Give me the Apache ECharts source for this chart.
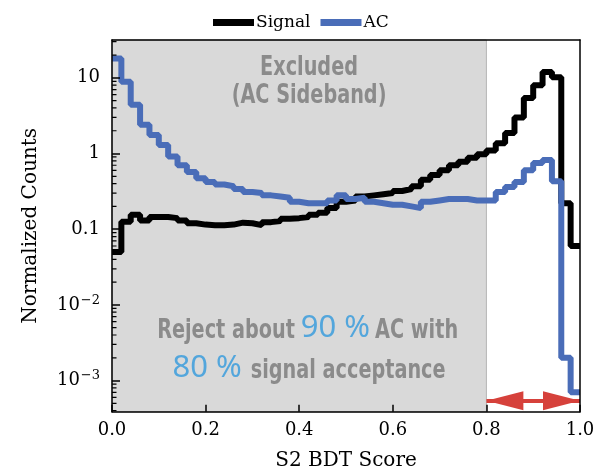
<!DOCTYPE html>
<html>
<head>
<meta charset="utf-8">
<script src="https://cdn.jsdelivr.net/npm/echarts@6/dist/echarts.min.js"></script>
<style>
html,body{margin:0;padding:0;background:#fff;}
#chart{width:595px;height:468px;}
</style>
</head>
<body>
<div id="chart"></div>
<script>
// ---- data ----
const binEdges = [0.00,0.02,0.04,0.06,0.08,0.10,0.12,0.14,0.16,0.18,
                  0.20,0.22,0.24,0.26,0.28,0.30,0.32,0.34,0.36,0.38,
                  0.40,0.42,0.44,0.46,0.48,0.50,0.52,0.54,0.56,0.58,
                  0.60,0.62,0.64,0.66,0.68,0.70,0.72,0.74,0.76,0.78,
                  0.80,0.82,0.84,0.86,0.88,0.90,0.92,0.94,0.96,0.98,1.00];
const signalCounts = [0.05,0.125,0.155,0.13,0.145,0.145,0.14,0.13,0.12,0.115,
                      0.113,0.113,0.115,0.122,0.12,0.113,0.124,0.128,0.137,0.14,
                      0.145,0.155,0.165,0.19,0.23,0.24,0.27,0.28,0.29,0.30,
                      0.32,0.34,0.37,0.45,0.52,0.60,0.70,0.78,0.88,0.98,
                      1.1,1.37,1.87,3.0,5.4,8.0,11.9,10.2,0.22,0.06];
const acCounts = [18,8.9,4.4,2.4,1.75,1.3,0.91,0.70,0.57,0.47,
                  0.42,0.39,0.37,0.34,0.31,0.30,0.28,0.27,0.26,0.23,
                  0.22,0.22,0.22,0.24,0.28,0.25,0.26,0.23,0.22,0.21,
                  0.21,0.20,0.19,0.23,0.24,0.25,0.25,0.25,0.24,0.24,
                  0.24,0.31,0.36,0.42,0.60,0.75,0.82,0.43,0.002,0.0007];
const seriesNames = ['Signal','AC'];
const yTickLabels = {'-3':['10','−3'],'-2':['10','−2'],'-1':['0.1',''],'0':['1',''],'1':['10','']};
const yMinorTicks = [4e-4,5e-4,6e-4,7e-4,8e-4,9e-4,
                     2e-3,3e-3,4e-3,5e-3,6e-3,7e-3,8e-3,9e-3,
                     2e-2,3e-2,4e-2,5e-2,6e-2,7e-2,8e-2,9e-2,
                     0.2,0.3,0.4,0.5,0.6,0.7,0.8,0.9,
                     2,3,4,5,6,7,8,9,20,30];
const yRange = [3.88e-4, 31.6];
const excludedRange = [0.0, 0.8];
const acceptRange = [0.8, 1.0];
const arrowLevel = 5.4e-4;

const annotations = [
  [0.421, 10.25, [['g','Excluded']]],
  [0.421, 4.37, [['g','(AC Sideband)']]],
  [0.418, 0.00344, [['g','Reject about'],['gap',6],['b','90 %'],['gap',5],['g','AC with']]],
  [0.421, 0.00102, [['b','80 %'],['gap',9],['g','signal acceptance']]]
];

function stepData(vals){
  const d = vals.map((v,i)=>[binEdges[i], v]);
  d.push([binEdges[binEdges.length-1], vals[vals.length-1]]);
  return d;
}

const chart = echarts.init(document.getElementById('chart'), null, {renderer:'canvas'});
const serif = 'DejaVu Serif';

const option = {
  animation: false,
  backgroundColor: '#fff',
  grid: {left: 112, right: 15, top: 40, bottom: 56.3, containLabel: false, outerBoundsMode: 'none'},
  legend: {
    data: seriesNames,
    left: 213, top: 14, padding: 0,
    icon: 'rect', itemWidth: 41, itemHeight: 7, itemGap: 10,
    textStyle: {fontFamily: serif, fontSize: 17, color: '#000', padding:[0,0,0,-3]}
  },
  xAxis: [{
    type: 'value', min: 0, max: 1, interval: 0.2, z: 5,
    name: 'S2 BDT Score', nameLocation: 'middle', nameGap: 39,
    nameTextStyle: {fontFamily: serif, fontSize: 20, color: '#000'},
    axisLine: {show: true, onZero: false, lineStyle: {color: '#000', width: 1.5}},
    axisTick: {show: true, inside: true, length: 7, lineStyle: {color: '#000', width: 1.5}},
    axisLabel: {fontFamily: serif, fontSize: 18, color: '#000', margin: 10,
      formatter: v => v.toFixed(1)},
    splitLine: {show: false}
  },{
    type: 'value', min: 0, max: 1, position: 'top', z: 5,
    axisLine: {show: true, onZero: false, lineStyle: {color: '#000', width: 1.5}},
    axisTick: {show: false}, axisLabel: {show: false}, splitLine: {show: false}
  }],
  yAxis: [{
    type: 'log', logBase: 10, min: yRange[0], max: yRange[1], z: 5,
    name: 'Normalized Counts', nameLocation: 'middle', nameGap: 71,
    nameTextStyle: {fontFamily: serif, fontSize: 20, color: '#000'},
    axisLine: {show: true, onZero: false, lineStyle: {color: '#000', width: 1.5}},
    axisTick: {show: true, inside: true, length: 8, lineStyle: {color: '#000', width: 1.5}},
    axisLabel: {
      fontFamily: serif, fontSize: 18, color: '#000', margin: 12,
      showMinLabel: false, showMaxLabel: false,
      formatter: v => {
        const k = String(Math.round(Math.log10(v)));
        const t = yTickLabels[k];
        if (!t) return '';
        return t[1] ? '{b|' + t[0] + '}{s|' + t[1] + '}' : '{b|' + t[0] + '}';
      },
      rich: {
        b: {fontFamily: serif, fontSize: 18, color: '#000'},
        s: {fontFamily: serif, fontSize: 13, color: '#000', padding: [0,0,9,1]}
      }
    },
    splitLine: {show: false}
  },{
    type: 'log', logBase: 10, min: yRange[0], max: yRange[1], position: 'right', z: 5,
    axisLine: {show: true, onZero: false, lineStyle: {color: '#000', width: 1.5}},
    axisTick: {show: false}, axisLabel: {show: false}, splitLine: {show: false}
  }],
  series: [
    {
      name: 'annot', type: 'line', data: [], silent: true,
      markArea: {
        silent: true,
        itemStyle: {color: '#d9d9d9', borderColor: '#b5b5b5', borderWidth: 1},
        data: [[{xAxis: excludedRange[0], yAxis: yRange[0]}, {xAxis: excludedRange[1], yAxis: yRange[1]}]]
      },
      markLine: {
        silent: true,
        symbol: ['triangle','triangle'],
        label: {show: false},
        lineStyle: {color: '#d6413b', width: 4, type: 'solid', opacity: 1},
        data: [[
          {coord: [acceptRange[0], arrowLevel], symbol: 'triangle', symbolSize: [19, 37], symbolOffset: [0, 18.5]},
          {coord: [acceptRange[1], arrowLevel], symbol: 'triangle', symbolSize: [19, 37], symbolOffset: [0, 18.5]}
        ]]
      }
    },
    {
      name: seriesNames[0], type: 'line', step: 'end', showSymbol: false, clip: true, z: 2,
      data: stepData(signalCounts),
      lineStyle: {color: '#000', width: 6}, itemStyle: {color: '#000'}
    },
    {
      name: seriesNames[1], type: 'line', step: 'end', showSymbol: false, clip: true, z: 2,
      data: stepData(acCounts),
      lineStyle: {color: '#4a6db8', width: 6}, itemStyle: {color: '#4a6db8'}
    },
    {
      name: 'minor', type: 'custom', silent: true, z: 3, clip: true,
      data: yMinorTicks.map(v => [0, v]),
      renderItem: (params, api) => {
        const p = api.coord([api.value(0), api.value(1)]);
        return {type: 'line', shape: {x1: p[0], y1: p[1], x2: p[0] + 4.5, y2: p[1]},
                style: {stroke: '#000', lineWidth: 1.2}};
      }
    }
  ]
};
chart.setOption(option);

const pieceStyle = {
  g: {family: 'DejaVu Sans', weight: 'bold', size: 26, color: '#8b8b8b', scale: 0.74, k: 0.346},
  b: {family: 'Noto Sans', weight: 'normal', size: 31, color: '#53a6dc', scale: 1.0, k: 0.388}
};
const mctx = document.createElement('canvas').getContext('2d');
function measure(st, text){
  mctx.font = st.weight + ' ' + st.size + 'px "' + st.family + '"';
  return mctx.measureText(text).width * st.scale;
}
const graphics = [];
annotations.forEach(([ax, ay, pieces]) => {
  const p = chart.convertToPixel({xAxisIndex: 0, yAxisIndex: 0}, [ax, ay]);
  let total = 0;
  const widths = pieces.map(pc => {
    const w = pc[0] === 'gap' ? pc[1] : measure(pieceStyle[pc[0]], pc[1]);
    total += w; return w;
  });
  let x = p[0] - total / 2;
  pieces.forEach((pc, i) => {
    if (pc[0] !== 'gap') {
      const st = pieceStyle[pc[0]];
      graphics.push({
        type: 'text', x: x, y: p[1] - st.k * st.size, scaleX: st.scale, z: 10, silent: true,
        style: {text: pc[1], fill: st.color, fontFamily: st.family, fontWeight: st.weight,
                fontSize: st.size, align: 'left', verticalAlign: 'middle'}
      });
    }
    x += widths[i];
  });
});
chart.setOption({graphic: graphics});
</script>
</body>
</html>
